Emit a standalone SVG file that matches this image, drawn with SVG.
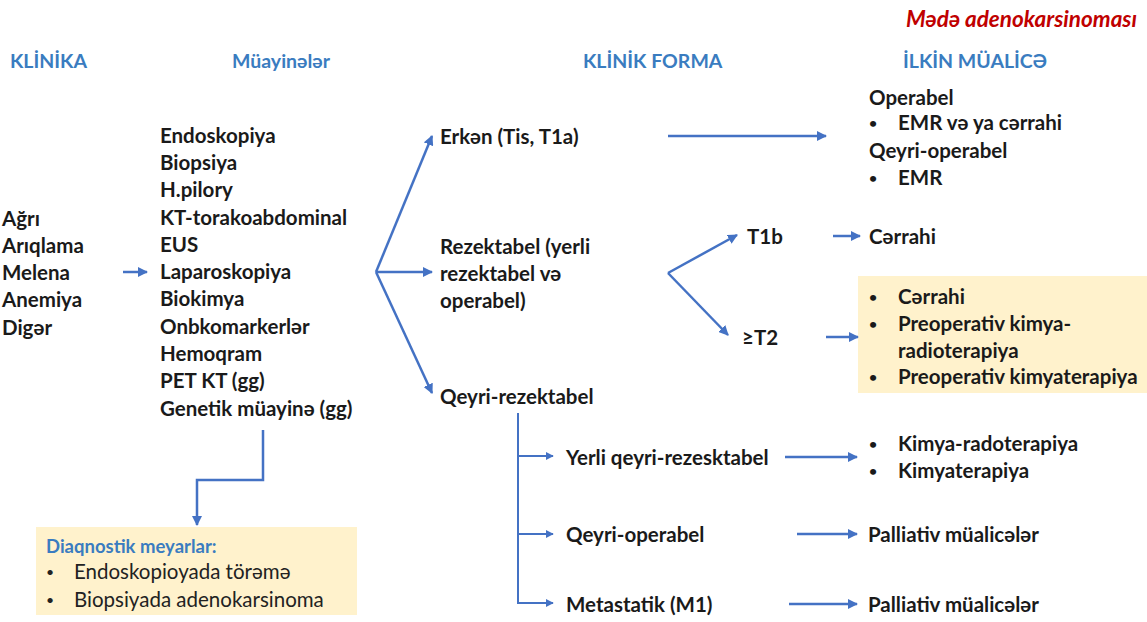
<svg xmlns="http://www.w3.org/2000/svg" width="1147" height="622" viewBox="0 0 1147 622">
<style>
text{font-family:Lato,"Open Sans","DejaVu Sans",sans-serif;font-weight:700;font-size:20.5px;fill:#1a1a1a;dominant-baseline:central}
.h{fill:#3a7cc0;font-size:19.5px}
.t{fill:#c00000;font-style:italic;font-size:22.5px}
.r{font-weight:400;fill:#222}
.b{font-size:14px}
.c{fill:none;stroke:#4472c4;stroke-width:2.5}
.c2{fill:none;stroke:#4472c4;stroke-width:2}
.box{fill:#fff2cc}
</style>
<defs>
<marker id="a" viewBox="0 0 10 10" refX="9" refY="5" markerWidth="4" markerHeight="4" orient="auto" markerUnits="strokeWidth"><path d="M0,0L10,5L0,10z" fill="#4472c4"/></marker>
</defs>
<g id="title"><text class="t" x="1137" y="18" text-anchor="end">Mədə adenokarsinoması</text></g>
<g id="headers">
<text class="h" x="10" y="60">KLİNİKA</text>
<text class="h" x="232" y="60">Müayinələr</text>
<text class="h" x="583" y="60">KLİNİK FORMA</text>
<text class="h" x="903" y="60">İLKİN MÜALİCƏ</text>
</g>
<g id="klinika">
<text x="2" y="218">Ağrı</text>
<text x="2" y="245">Arıqlama</text>
<text x="2" y="272">Melena</text>
<text x="2" y="299">Anemiya</text>
<text x="2" y="327">Digər</text>
</g>
<g id="muayine">
<text x="160" y="135">Endoskopiya</text>
<text x="160" y="162">Biopsiya</text>
<text x="160" y="189">H.pilory</text>
<text x="160" y="217">KT-torakoabdominal</text>
<text x="160" y="244">EUS</text>
<text x="160" y="271">Laparoskopiya</text>
<text x="160" y="298">Biokimya</text>
<text x="160" y="326">Onbkomarkerlər</text>
<text x="160" y="353">Hemoqram</text>
<text x="160" y="380">PET KT (gg)</text>
<text x="160" y="408">Genetik müayinə (gg)</text>
</g>
<g id="diaqnostik">
<rect class="box" x="36" y="527" width="321" height="88"/>
<text class="h" x="46" y="546" style="font-size:18.5px">Diaqnostik meyarlar:</text>
<text class="r b" x="46" y="571">•</text>
<text class="r" x="74" y="571">Endoskopioyada törəmə</text>
<text class="r b" x="46" y="599">•</text>
<text class="r" x="74" y="599">Biopsiyada adenokarsinoma</text>
</g>
<g id="erken"><text x="440" y="136">Erkən (Tis, T1a)</text></g>
<g id="rezektabel">
<text x="440" y="246">Rezektabel (yerli</text>
<text x="440" y="273">rezektabel və</text>
<text x="440" y="300">operabel)</text>
</g>
<g id="qeyri-rezektabel"><text x="440" y="396">Qeyri-rezektabel</text></g>
<g id="erken-mualice">
<text x="869" y="97">Operabel</text>
<text class="b" x="869" y="122">•</text>
<text x="898" y="122">EMR və ya cərrahi</text>
<text x="869" y="150">Qeyri-operabel</text>
<text class="b" x="869" y="177">•</text>
<text x="898" y="177">EMR</text>
</g>
<g id="t1b"><text x="747" y="236">T1b</text></g>
<g id="t1b-mualice"><text x="869" y="236">Cərrahi</text></g>
<g id="t2"><text x="742" y="337">≥T2</text></g>
<g id="t2-mualice">
<rect class="box" x="858" y="276" width="289" height="117"/>
<text class="b" x="869" y="296">•</text>
<text x="898" y="296">Cərrahi</text>
<text class="b" x="869" y="323">•</text>
<text x="898" y="323">Preoperativ kimya-</text>
<text x="898" y="350">radioterapiya</text>
<text class="b" x="869" y="376">•</text>
<text x="898" y="376">Preoperativ kimyaterapiya</text>
</g>
<g id="yerli"><text x="566" y="457">Yerli qeyri-rezesktabel</text></g>
<g id="yerli-mualice">
<text class="b" x="869" y="443">•</text>
<text x="898" y="443">Kimya-radoterapiya</text>
<text class="b" x="869" y="470">•</text>
<text x="898" y="470">Kimyaterapiya</text>
</g>
<g id="qeyri-operabel"><text x="566" y="534">Qeyri-operabel</text></g>
<g id="palliativ1"><text x="868" y="534">Palliativ müalicələr</text></g>
<g id="metastatik"><text x="566" y="604">Metastatik (M1)</text></g>
<g id="palliativ2"><text x="868" y="604">Palliativ müalicələr</text></g>
<g id="connectors">
<path class="c" d="M123,272H147" marker-end="url(#a)"/>
<path class="c" d="M376,272L432,136" marker-end="url(#a)"/>
<path class="c" d="M376,272H432" marker-end="url(#a)"/>
<path class="c" d="M376,272L432,393" marker-end="url(#a)"/>
<path class="c" d="M668,136H826" marker-end="url(#a)"/>
<path class="c" d="M668,273L737,235" marker-end="url(#a)"/>
<path class="c" d="M668,273L728,335" marker-end="url(#a)"/>
<path class="c" d="M833,236H860" marker-end="url(#a)"/>
<path class="c" d="M826,337H858" marker-end="url(#a)"/>
<path class="c" d="M263,430V480H197V525" marker-end="url(#a)"/>
<path class="c2" d="M518,413V603H553" marker-end="url(#a)"/>
<path class="c2" d="M518,456H553" marker-end="url(#a)"/>
<path class="c2" d="M518,534H553" marker-end="url(#a)"/>
<path class="c" d="M785,457H857" marker-end="url(#a)"/>
<path class="c" d="M797,534H857" marker-end="url(#a)"/>
<path class="c" d="M789,604H857" marker-end="url(#a)"/>
</g>
</svg>
